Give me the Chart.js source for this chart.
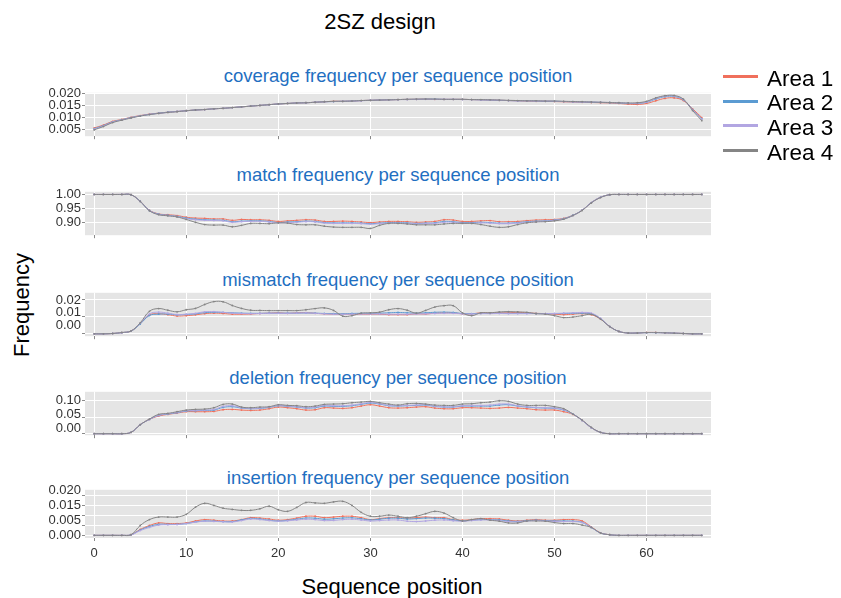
<!DOCTYPE html>
<html>
<head>
<meta charset="utf-8">
<title>2SZ design</title>
<script src="https://cdn.jsdelivr.net/npm/chart.js@4.4.0/dist/chart.umd.min.js"></script>
<style>
  body { margin: 0; background: #fff; font-family: "Liberation Sans", Arial, sans-serif; }
  #page { position: relative; width: 841px; height: 598px; overflow: hidden; }
  .abs { position: absolute; white-space: nowrap; }
  .main-title { left: 0; width: 760px; top: 11px; text-align: center; font-size: 22px; line-height: 22px; color: #000; }
  .panel-title { left: 85px; width: 626px; text-align: center; font-size: 18.5px; line-height: 18px; color: #1f6fc1; }
  .axis-title { font-size: 22px; line-height: 22px; color: #000; transform: translate(-50%, -50%); }
  .legend-key { position: absolute; left: 723px; width: 35px; height: 3px; }
  .legend-text { position: absolute; left: 767px; font-size: 22.5px; line-height: 22px; color: #000; }
</style>
</head>
<body>
<div id="page">
  <div class="abs main-title">2SZ design</div>
  <div class="abs axis-title" style="left:22px; top:305px; transform: translate(-50%, -50%) rotate(-90deg);">Frequency</div>
  <div class="abs axis-title" style="left:392px; top:587px;">Sequence position</div>
</div>
<script>
// sequence positions 0..66
const positions = Array.from({ length: 67 }, (_, i) => i);

const areaNames = ['Area 1', 'Area 2', 'Area 3', 'Area 4'];
const areaColors = ['#f0705c', '#5b9bd2', '#b2a6e2', '#858585'];

// coverage frequency
const coverage1 = [.0056,.0068,.0083,.0091,.0100,.0107,.0113,.0117,.0121,.0124,
  .0127,.0130,.0132,.0135,.0137,.0140,.0143,.0146,.0149,.0152,
  .0155,.0157,.0159,.0160,.0162,.0164,.0166,.0166,.0167,.0169,
  .0170,.0171,.0172,.0173,.0174,.0174,.0175,.0174,.0174,.0174,
  .0174,.0173,.0172,.0171,.0170,.0169,.0168,.0167,.0166,.0166,
  .0165,.0164,.0163,.0162,.0161,.0160,.0159,.0157,.0154,.0153,
  .0157,.0168,.0178,.0180,.0169,.0135,.0099];
const coverage2 = [.0053,.0066,.0081,.0090,.0099,.0106,.0112,.0117,.0121,.0124,
  .0127,.0130,.0132,.0135,.0137,.0140,.0143,.0146,.0149,.0152,
  .0155,.0157,.0159,.0160,.0162,.0164,.0165,.0166,.0167,.0169,
  .0170,.0171,.0172,.0173,.0174,.0174,.0175,.0175,.0174,.0174,
  .0174,.0173,.0172,.0171,.0170,.0169,.0168,.0168,.0167,.0166,
  .0166,.0165,.0164,.0163,.0162,.0161,.0160,.0159,.0157,.0157,
  .0162,.0175,.0185,.0186,.0172,.0132,.0094];
const coverage3 = [.0051,.0064,.0080,.0089,.0098,.0106,.0112,.0116,.0120,.0124,
  .0127,.0130,.0132,.0135,.0137,.0140,.0143,.0146,.0149,.0152,
  .0155,.0157,.0159,.0160,.0162,.0164,.0165,.0166,.0167,.0168,
  .0170,.0171,.0172,.0173,.0173,.0174,.0174,.0174,.0174,.0174,
  .0173,.0173,.0172,.0171,.0170,.0169,.0168,.0168,.0167,.0167,
  .0166,.0165,.0164,.0163,.0163,.0162,.0161,.0160,.0158,.0158,
  .0163,.0177,.0187,.0188,.0173,.0131,.0092];
const coverage4 = [.0048,.0062,.0078,.0088,.0097,.0105,.0111,.0116,.0120,.0123,
  .0127,.0130,.0132,.0135,.0137,.0140,.0143,.0146,.0149,.0152,
  .0155,.0157,.0159,.0160,.0162,.0164,.0166,.0166,.0167,.0169,
  .0170,.0171,.0172,.0173,.0174,.0175,.0175,.0175,.0174,.0174,
  .0174,.0173,.0173,.0172,.0171,.0170,.0169,.0168,.0168,.0167,
  .0167,.0166,.0165,.0164,.0163,.0162,.0161,.0160,.0159,.0160,
  .0166,.0180,.0189,.0190,.0175,.0128,.0086];

// match frequency
const match1 = [1,1,1,1,.999,.976,.944,.931,.928,.925,
  .919,.916,.915,.913,.913,.908,.911,.910,.910,.908,
  .904,.906,.908,.910,.909,.904,.904,.905,.904,.902,
  .900,.902,.904,.904,.903,.901,.902,.904,.910,.909,
  .904,.904,.906,.907,.903,.903,.904,.907,.909,.910,
  .911,.915,.926,.944,.971,.990,.999,1,1,1,
  1,1,1,1,1,1,1];
const match2 = [1,1,1,1,.999,.976,.943,.930,.926,.922,
  .916,.912,.910,.909,.908,.903,.905,.906,.906,.904,
  .900,.902,.903,.905,.904,.900,.899,.899,.899,.898,
  .896,.898,.900,.900,.899,.897,.898,.899,.904,.903,
  .900,.900,.901,.900,.898,.898,.900,.903,.905,.906,
  .909,.914,.926,.944,.971,.990,.999,1,1,1,
  1,1,1,1,1,1,1];
const match3 = [1,1,1,1,.999,.975,.943,.929,.925,.921,
  .914,.910,.908,.907,.906,.901,.903,.904,.904,.902,
  .899,.900,.901,.903,.902,.898,.897,.897,.897,.896,
  .894,.896,.898,.898,.897,.895,.896,.897,.901,.901,
  .898,.898,.899,.898,.896,.896,.898,.901,.903,.905,
  .908,.913,.925,.944,.971,.990,.999,1,1,1,
  1,1,1,1,1,1,1];
const match4 = [1,1,1,1,.999,.975,.942,.928,.924,.920,
  .911,.901,.893,.891,.891,.885,.890,.897,.897,.896,
  .899,.898,.893,.892,.892,.887,.884,.883,.883,.883,
  .879,.890,.897,.897,.895,.892,.892,.892,.895,.897,
  .897,.897,.893,.887,.883,.885,.893,.899,.902,.903,
  .906,.912,.925,.943,.970,.989,.999,1,1,1,
  1,1,1,1,1,1,1];

// mismatch frequency
const mismatch1 = [0,0,.0002,.0007,.0016,.0060,.0112,.0118,.0113,.0105,
  .0107,.0112,.0119,.0122,.0120,.0116,.0116,.0117,.0120,.0122,
  .0124,.0121,.0124,.0125,.0121,.0118,.0116,.0116,.0116,.0116,
  .0116,.0116,.0113,.0113,.0113,.0118,.0117,.0122,.0124,.0124,
  .0118,.0118,.0124,.0124,.0124,.0124,.0127,.0124,.0121,.0119,
  .0116,.0113,.0116,.0119,.0113,.0087,.0043,.0014,.0005,.0005,
  .0008,.0008,.0006,.0004,.0002,0,0];
const mismatch2 = [0,0,.0002,.0007,.0016,.0058,.0108,.0116,.0117,.0112,
  .0114,.0118,.0125,.0127,.0126,.0124,.0122,.0121,.0121,.0122,
  .0122,.0122,.0122,.0123,.0122,.0120,.0119,.0118,.0120,.0121,
  .0121,.0122,.0124,.0126,.0124,.0122,.0124,.0127,.0128,.0126,
  .0120,.0119,.0121,.0122,.0122,.0121,.0121,.0121,.0120,.0119,
  .0119,.0120,.0121,.0122,.0118,.0089,.0043,.0014,.0005,.0005,
  .0007,.0007,.0006,.0004,.0002,0,0];
const mismatch3 = [0,0,.0002,.0007,.0017,.0063,.0118,.0128,.0122,.0114,
  .0116,.0121,.0130,.0131,.0127,.0122,.0120,.0119,.0120,.0121,
  .0121,.0121,.0122,.0123,.0121,.0118,.0116,.0115,.0116,.0117,
  .0117,.0117,.0116,.0116,.0116,.0117,.0118,.0120,.0121,.0121,
  .0118,.0117,.0119,.0119,.0120,.0119,.0119,.0119,.0119,.0119,
  .0120,.0122,.0124,.0126,.0122,.0092,.0044,.0014,.0005,.0005,
  .0007,.0007,.0006,.0004,.0002,0,0];
const mismatch4 = [0,0,.0002,.0008,.0017,.0065,.0133,.0149,.0139,.0130,
  .0142,.0150,.0173,.0190,.0189,.0167,.0150,.0139,.0138,.0137,
  .0137,.0137,.0137,.0142,.0149,.0153,.0138,.0104,.0107,.0122,
  .0124,.0128,.0142,.0149,.0139,.0122,.0138,.0158,.0166,.0166,
  .0124,.0107,.0124,.0124,.0129,.0131,.0129,.0127,.0119,.0116,
  .0107,.0096,.0099,.0107,.0115,.0087,.0043,.0014,.0005,.0005,
  .0007,.0007,.0006,.0004,.0002,0,0];

// deletion frequency
const deletion1 = [0,0,0,0,.004,.027,.043,.053,.058,.062,
  .066,.066,.066,.067,.072,.073,.071,.070,.071,.075,
  .080,.078,.075,.071,.072,.078,.077,.076,.078,.083,
  .087,.083,.078,.077,.078,.080,.081,.077,.075,.075,
  .078,.078,.077,.076,.077,.079,.077,.075,.072,.071,
  .071,.066,.058,.040,.018,.004,0,0,0,0,
  0,0,0,0,0,0,0];
const deletion2 = [0,0,0,0,.004,.027,.043,.055,.059,.063,
  .068,.069,.070,.071,.079,.081,.077,.075,.076,.079,
  .084,.082,.080,.077,.078,.083,.082,.082,.084,.088,
  .092,.089,.084,.083,.084,.085,.086,.082,.080,.080,
  .083,.083,.083,.083,.086,.087,.083,.080,.078,.077,
  .076,.071,.059,.040,.018,.004,0,0,0,0,
  0,0,0,0,0,0,0];
const deletion3 = [0,0,0,0,.004,.027,.043,.055,.060,.064,
  .069,.070,.071,.073,.082,.084,.078,.076,.077,.080,
  .085,.083,.081,.078,.080,.085,.084,.084,.086,.090,
  .094,.090,.085,.084,.085,.086,.087,.083,.081,.081,
  .084,.085,.085,.086,.089,.089,.084,.081,.079,.078,
  .077,.072,.059,.040,.018,.004,0,0,0,0,
  0,0,0,0,0,0,0];
const deletion4 = [0,0,0,0,.004,.027,.044,.058,.061,.066,
  .071,.073,.074,.078,.088,.089,.080,.078,.080,.081,
  .087,.085,.084,.081,.083,.088,.089,.090,.093,.095,
  .097,.093,.089,.086,.090,.091,.089,.086,.085,.085,
  .089,.090,.093,.095,.099,.097,.089,.085,.085,.085,
  .081,.075,.059,.041,.019,.004,0,0,0,0,
  0,0,0,0,0,0,0];

// insertion frequency
const insertion1 = [0,0,0,0,.0003,.0030,.0050,.0063,.0060,.0060,
  .0063,.0073,.0080,.0077,.0073,.0073,.0080,.0090,.0088,.0083,
  .0077,.0080,.0088,.0097,.0097,.0090,.0093,.0097,.0097,.0090,
  .0080,.0085,.0090,.0090,.0087,.0090,.0093,.0090,.0090,.0080,
  .0077,.0080,.0085,.0085,.0083,.0077,.0073,.0077,.0080,.0077,
  .0077,.0080,.0080,.0073,.0043,.0013,.0003,0,0,0,
  0,0,0,0,0,0,0];
const insertion2 = [0,0,0,0,.0003,.0027,.0045,.0056,.0056,.0056,
  .0060,.0068,.0073,.0072,.0070,.0070,.0078,.0086,.0083,.0077,
  .0073,.0076,.0082,.0088,.0087,.0082,.0084,.0088,.0089,.0084,
  .0078,.0082,.0087,.0087,.0083,.0085,.0088,.0087,.0085,.0078,
  .0074,.0077,.0080,.0080,.0078,.0073,.0071,.0075,.0077,.0075,
  .0073,.0073,.0072,.0066,.0040,.0012,.0003,0,0,0,
  0,0,0,0,0,0,0];
const insertion3 = [0,0,0,0,.0002,.0024,.0040,.0052,.0054,.0055,
  .0060,.0067,.0072,.0071,.0069,.0068,.0075,.0083,.0080,.0075,
  .0072,.0074,.0078,.0082,.0080,.0075,.0076,.0080,.0082,.0078,
  .0073,.0075,.0078,.0078,.0072,.0070,.0073,.0077,.0078,.0074,
  .0072,.0075,.0078,.0078,.0075,.0070,.0068,.0072,.0075,.0073,
  .0071,.0070,.0070,.0065,.0040,.0012,.0003,0,0,0,
  0,0,0,0,0,0,0];
const insertion4 = [0,0,0,0,.0003,.0050,.0080,.0093,.0093,.0093,
  .0107,.0143,.0163,.0152,.0138,.0132,.0127,.0127,.0135,.0148,
  .0130,.0122,.0142,.0167,.0165,.0163,.0170,.0173,.0152,.0117,
  .0097,.0097,.0103,.0097,.0090,.0097,.0110,.0122,.0113,.0090,
  .0073,.0080,.0085,.0077,.0072,.0063,.0063,.0073,.0073,.0072,
  .0065,.0060,.0060,.0052,.0040,.0012,.0003,0,0,0,
  0,0,0,0,0,0,0];

// y tick labels as printed on each panel
const coverageTicks = ['0.005', '0.010', '0.015', '0.020'];
const matchTicks = ['0.90', '0.95', '1.00'];
const mismatchTicks = ['0.00', '0.01', '0.02'];
const deletionTicks = ['0.00', '0.05', '0.10'];
const insertionTicks = ['0.000', '0.005', '0.015', '0.020'];

const PAD_TOP = 8;
const PANEL_H = 49;

// panel layout: top of plot area, data range, label placement range
const panels = [
  { title: 'coverage frequency per sequence position', titleTop: 67,
    series: [coverage1, coverage2, coverage3, coverage4], top: 92,
    yMin: 0.0022, yMax: 0.0201, step: 0.005, labels: coverageTicks, lMin: -0.56, lMax: 3.02 },
  { title: 'match frequency per sequence position', titleTop: 166,
    series: [match1, match2, match3, match4], top: 191,
    yMin: 0.855, yMax: 1.0095, step: 0.05, labels: matchTicks, lMin: -0.90, lMax: 2.19 },
  { title: 'mismatch frequency per sequence position', titleTop: 271,
    series: [mismatch1, mismatch2, mismatch3, mismatch4], top: 292,
    yMin: -0.0014, yMax: 0.0242, step: 0.01, labels: mismatchTicks, lMin: -0.80, lMax: 2.55 },
  { title: 'deletion frequency per sequence position', titleTop: 369,
    series: [deletion1, deletion2, deletion3, deletion4], top: 391,
    yMin: -0.0045, yMax: 0.1258, step: 0.05, labels: deletionTicks, lMin: -0.46, lMax: 2.61 },
  { title: 'insertion frequency per sequence position', titleTop: 469,
    series: [insertion1, insertion2, insertion3, insertion4], top: 489,
    yMin: -0.00135, yMax: 0.02315, step: 0.005, labels: insertionTicks, lMin: -0.17, lMax: 3.02 }
];

const panelBg = {
  id: 'panelBg',
  beforeDraw(chart) {
    const { ctx, chartArea: a } = chart;
    ctx.save();
    ctx.fillStyle = '#e5e5e5';
    ctx.fillRect(a.left, a.top, a.width, a.height);
    ctx.restore();
  }
};

const page = document.getElementById('page');
const tickFont = { family: '"Liberation Sans", Arial, sans-serif', size: 13 };

panels.forEach((p, k) => {
  const last = k === panels.length - 1;
  const xH = last ? 26 : 4;

  const title = document.createElement('div');
  title.className = 'abs panel-title';
  title.style.top = p.titleTop + 'px';
  title.textContent = p.title;
  page.appendChild(title);

  const canvas = document.createElement('canvas');
  const h = PAD_TOP + PANEL_H + xH;
  canvas.width = 841;
  canvas.height = h;
  canvas.style.cssText = `position:absolute;left:0;top:${p.top - PAD_TOP}px;width:841px;height:${h}px`;
  page.appendChild(canvas);

  new Chart(canvas, {
    type: 'line',
    data: {
      datasets: p.series.map((vals, i) => ({
        label: areaNames[i],
        data: vals.map((v, j) => ({ x: positions[j], y: v })),
        borderColor: areaColors[i],
        backgroundColor: areaColors[i],
        borderWidth: 1,
        pointRadius: 0.9,
        pointBorderWidth: 0,
        tension: 0.4,
        order: 4 - i,
        yAxisID: 'y'
      }))
    },
    options: {
      responsive: false,
      animation: false,
      devicePixelRatio: 1,
      layout: { padding: { top: PAD_TOP, right: 130, left: 0, bottom: 0 } },
      plugins: { legend: { display: false }, tooltip: { enabled: false } },
      scales: {
        x: {
          type: 'linear', min: -1, max: 67,
          border: { display: false },
          grid: { color: '#ffffff', drawTicks: true, tickLength: 3, tickColor: '#8a8a8a' },
          ticks: { display: last, stepSize: 10, includeBounds: false, padding: 5,
                   color: '#333', font: tickFont, maxRotation: 0 },
          afterFit: s => { s.height = xH; }
        },
        y: {
          position: 'left', weight: 0, min: p.yMin, max: p.yMax,
          border: { display: false },
          grid: { color: '#ffffff', drawTicks: true, tickLength: 3, tickColor: '#8a8a8a' },
          ticks: { display: false, stepSize: p.step, includeBounds: false },
          afterFit: s => { s.width = 3; }
        },
        yl: {
          type: 'linear', position: 'left', weight: 1, min: p.lMin, max: p.lMax,
          border: { display: false },
          grid: { display: false, drawTicks: false },
          ticks: { stepSize: 1, includeBounds: false, autoSkip: false, padding: 1,
                   color: '#333', font: tickFont,
                   callback: v => (p.labels[v] !== undefined ? p.labels[v] : '') },
          afterFit: s => { s.width = 82; }
        }
      }
    },
    plugins: [panelBg]
  });
});

// legend
areaNames.forEach((name, i) => {
  const cy = 76.5 + i * 24.7;
  const key = document.createElement('div');
  key.className = 'legend-key';
  key.style.top = (cy - 1.5) + 'px';
  key.style.background = areaColors[i];
  page.appendChild(key);
  const txt = document.createElement('div');
  txt.className = 'legend-text';
  txt.style.top = (cy - 9) + 'px';
  txt.textContent = name;
  page.appendChild(txt);
});
</script>
</body>
</html>
